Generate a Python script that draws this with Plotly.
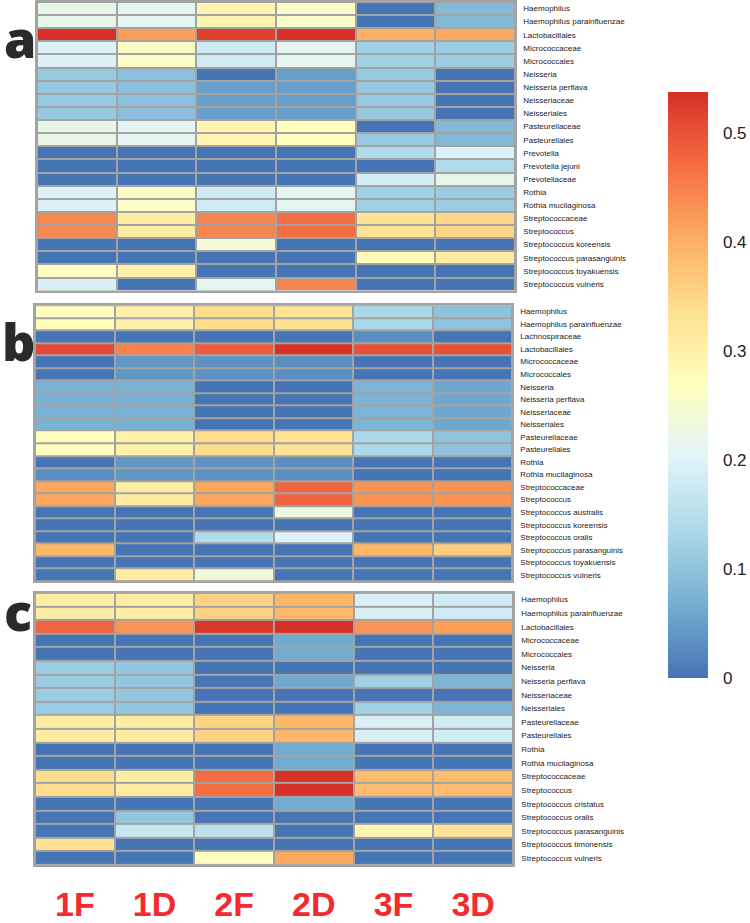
import plotly.graph_objects as go

columns = ["1F", "1D", "2F", "2D", "3F", "3D"]

taxa_a = ["Haemophilus", "Haemophilus parainfluenzae", "Lactobacillales", "Micrococcaceae",
          "Micrococcales", "Neisseria", "Neisseria perflava", "Neisseriaceae", "Neisseriales",
          "Pasteurellaceae", "Pasteurellales", "Prevotella", "Prevotella jejuni", "Prevotellaceae",
          "Rothia", "Rothia mucilaginosa", "Streptococcaceae", "Streptococcus",
          "Streptococcus koreensis", "Streptococcus parasanguinis", "Streptococcus toyakuensis",
          "Streptococcus vulneris"]
values_a = [
    [0.22, 0.21, 0.29, 0.26, 0.00, 0.085],
    [0.22, 0.21, 0.29, 0.26, 0.00, 0.085],
    [0.54, 0.42, 0.52, 0.535, 0.40, 0.41],
    [0.195, 0.26, 0.18, 0.21, 0.12, 0.115],
    [0.195, 0.26, 0.18, 0.21, 0.12, 0.115],
    [0.11, 0.095, 0.00, 0.05, 0.11, 0.00],
    [0.11, 0.095, 0.05, 0.05, 0.11, 0.00],
    [0.11, 0.095, 0.05, 0.05, 0.11, 0.00],
    [0.11, 0.095, 0.05, 0.05, 0.11, 0.00],
    [0.22, 0.21, 0.29, 0.27, 0.00, 0.085],
    [0.22, 0.21, 0.29, 0.27, 0.11, 0.085],
    [0.00, 0.00, 0.00, 0.00, 0.14, 0.195],
    [0.00, 0.00, 0.00, 0.00, 0.00, 0.14],
    [0.00, 0.00, 0.00, 0.00, 0.185, 0.22],
    [0.195, 0.26, 0.18, 0.21, 0.12, 0.115],
    [0.195, 0.26, 0.18, 0.21, 0.12, 0.115],
    [0.44, 0.31, 0.445, 0.47, 0.33, 0.35],
    [0.44, 0.31, 0.445, 0.47, 0.33, 0.35],
    [0.00, 0.00, 0.24, 0.00, 0.00, 0.00],
    [0.00, 0.00, 0.00, 0.00, 0.28, 0.31],
    [0.27, 0.30, 0.00, 0.00, 0.00, 0.00],
    [0.19, 0.00, 0.21, 0.445, 0.00, 0.00],
]

taxa_b = ["Haemophilus", "Haemophilus parainfluenzae", "Lachnospiraceae", "Lactobacillales",
          "Micrococcaceae", "Micrococcales", "Neisseria", "Neisseria perflava", "Neisseriaceae",
          "Neisseriales", "Pasteurellaceae", "Pasteurellales", "Rothia", "Rothia mucilaginosa",
          "Streptococcaceae", "Streptococcus", "Streptococcus australis", "Streptococcus koreensis",
          "Streptococcus oralis", "Streptococcus parasanguinis", "Streptococcus toyakuensis",
          "Streptococcus vulneris"]
values_b = [
    [0.27, 0.30, 0.34, 0.33, 0.135, 0.10],
    [0.27, 0.30, 0.34, 0.33, 0.135, 0.10],
    [0.00, 0.00, 0.00, 0.00, 0.03, 0.00],
    [0.51, 0.45, 0.49, 0.54, 0.50, 0.50],
    [0.00, 0.04, 0.035, 0.03, 0.00, 0.00],
    [0.00, 0.04, 0.035, 0.03, 0.00, 0.00],
    [0.075, 0.075, 0.00, 0.00, 0.08, 0.06],
    [0.075, 0.075, 0.00, 0.00, 0.08, 0.06],
    [0.075, 0.075, 0.00, 0.00, 0.08, 0.06],
    [0.075, 0.075, 0.00, 0.00, 0.08, 0.06],
    [0.27, 0.30, 0.34, 0.33, 0.135, 0.10],
    [0.27, 0.30, 0.34, 0.33, 0.135, 0.10],
    [0.00, 0.04, 0.035, 0.03, 0.00, 0.00],
    [0.03, 0.04, 0.035, 0.03, 0.00, 0.00],
    [0.41, 0.31, 0.41, 0.48, 0.43, 0.43],
    [0.41, 0.31, 0.41, 0.48, 0.43, 0.43],
    [0.00, 0.00, 0.00, 0.23, 0.00, 0.00],
    [0.00, 0.00, 0.00, 0.00, 0.00, 0.00],
    [0.00, 0.00, 0.14, 0.20, 0.00, 0.00],
    [0.39, 0.00, 0.00, 0.00, 0.39, 0.36],
    [0.00, 0.00, 0.00, 0.00, 0.00, 0.00],
    [0.00, 0.31, 0.235, 0.00, 0.00, 0.00],
]

taxa_c = ["Haemophilus", "Haemophilus parainfluenzae", "Lactobacillales", "Micrococcaceae",
          "Micrococcales", "Neisseria", "Neisseria perflava", "Neisseriaceae", "Neisseriales",
          "Pasteurellaceae", "Pasteurellales", "Rothia", "Rothia mucilaginosa",
          "Streptococcaceae", "Streptococcus", "Streptococcus cristatus", "Streptococcus oralis",
          "Streptococcus parasanguinis", "Streptococcus timonensis", "Streptococcus vulneris"]
values_c = [
    [0.31, 0.31, 0.355, 0.39, 0.19, 0.18],
    [0.31, 0.31, 0.355, 0.39, 0.19, 0.18],
    [0.48, 0.43, 0.53, 0.54, 0.43, 0.42],
    [0.00, 0.00, 0.00, 0.065, 0.00, 0.00],
    [0.00, 0.00, 0.00, 0.065, 0.00, 0.00],
    [0.115, 0.105, 0.00, 0.00, 0.00, 0.00],
    [0.115, 0.105, 0.00, 0.06, 0.12, 0.08],
    [0.115, 0.105, 0.00, 0.00, 0.00, 0.00],
    [0.115, 0.105, 0.00, 0.00, 0.12, 0.08],
    [0.31, 0.31, 0.355, 0.39, 0.19, 0.18],
    [0.31, 0.31, 0.355, 0.39, 0.19, 0.18],
    [0.00, 0.00, 0.00, 0.065, 0.00, 0.00],
    [0.00, 0.00, 0.00, 0.065, 0.00, 0.00],
    [0.34, 0.31, 0.47, 0.54, 0.385, 0.385],
    [0.34, 0.31, 0.47, 0.54, 0.385, 0.385],
    [0.00, 0.00, 0.00, 0.065, 0.00, 0.00],
    [0.00, 0.105, 0.00, 0.00, 0.00, 0.00],
    [0.00, 0.17, 0.155, 0.00, 0.29, 0.33],
    [0.33, 0.00, 0.00, 0.00, 0.00, 0.00],
    [0.00, 0.00, 0.27, 0.41, 0.00, 0.00],
]

panel_letters = ["a", "b", "c"]
cbar_ticks = [0, 0.1, 0.2, 0.3, 0.4, 0.5]
cbar_ticktext = ["0", "0.1", "0.2", "0.3", "0.4", "0.5"]

W, H = 750, 923
colors = ["#4575b4", "#74add1", "#abd9e9", "#e0f3f8", "#ffffbf",
          "#fee090", "#fdae61", "#f46d43", "#d73027"]
colorscale = [[i / (len(colors) - 1), c] for i, c in enumerate(colors)]

# pixel boxes (x0, x1, ytop, ybottom)
boxes = [(37, 515, 2, 298), (35, 512, 313, 596), (35, 513, 608, 887)]
letter_pos = [(20, 38), (18, 349), (18, 626)]

fig = go.Figure()
panels = [(taxa_a, values_a), (taxa_b, values_b), (taxa_c, values_c)]
grid = "#a3a3a3"
for i, (taxa, vals) in enumerate(panels):
    sfx = "" if i == 0 else str(i + 1)
    fig.add_trace(go.Heatmap(
        z=vals, x=columns, y=taxa, coloraxis="coloraxis",
        xgap=2, ygap=2, xaxis="x" + sfx, yaxis="y" + sfx,
        hoverinfo="skip"))
    x0, x1, yt, yb = boxes[i]
    fig.layout["xaxis" + sfx] = dict(
        domain=[x0 / W, x1 / W], anchor="y" + sfx,
        showticklabels=(i == 2), ticks="", showgrid=False, zeroline=False,
        showline=True, mirror=True, linecolor=grid, linewidth=1.5,
        tickfont=dict(family="Liberation Sans, Arial", size=34, color="#f42a2e", weight=700),
        ticklabelstandoff=9,
    )
    fig.layout["yaxis" + sfx] = dict(
        domain=[1 - yb / H, 1 - yt / H], anchor="x" + sfx, side="right",
        autorange="reversed", ticks="", showgrid=False, zeroline=False,
        showline=True, mirror=True, linecolor=grid, linewidth=1.5,
        tickfont=dict(family="Liberation Sans, Arial", size=8, color="#222"),
        ticklabelstandoff=5,
    )
    lx, ly = letter_pos[i]
    fig.add_annotation(
        text=panel_letters[i], xref="paper", yref="paper",
        x=lx / W, y=1 - ly / H, xanchor="center", yanchor="middle",
        showarrow=False, borderpad=0,
        font=dict(family="Open Sans", size=52, color="#2a2a2a", weight=800))

fig.update_layout(
    width=W, height=H, margin=dict(l=0, r=0, t=0, b=0),
    paper_bgcolor="white", plot_bgcolor=grid, showlegend=False,
    coloraxis=dict(
        colorscale=colorscale, cmin=0, cmax=0.5376,
        colorbar=dict(
            x=668 / W, xanchor="left", xpad=0, ypad=0,
            y=1 - 394.5 / H, yanchor="middle", len=601 / H, lenmode="fraction",
            thickness=40, outlinewidth=0,
            tickvals=cbar_ticks, ticktext=cbar_ticktext,
            ticks="outside", ticklen=12, tickcolor="rgba(0,0,0,0)",
            tickfont=dict(family="Liberation Sans, Arial", size=17, color="#222"),
        ),
    ),
)

fig.write_html("out.html")
